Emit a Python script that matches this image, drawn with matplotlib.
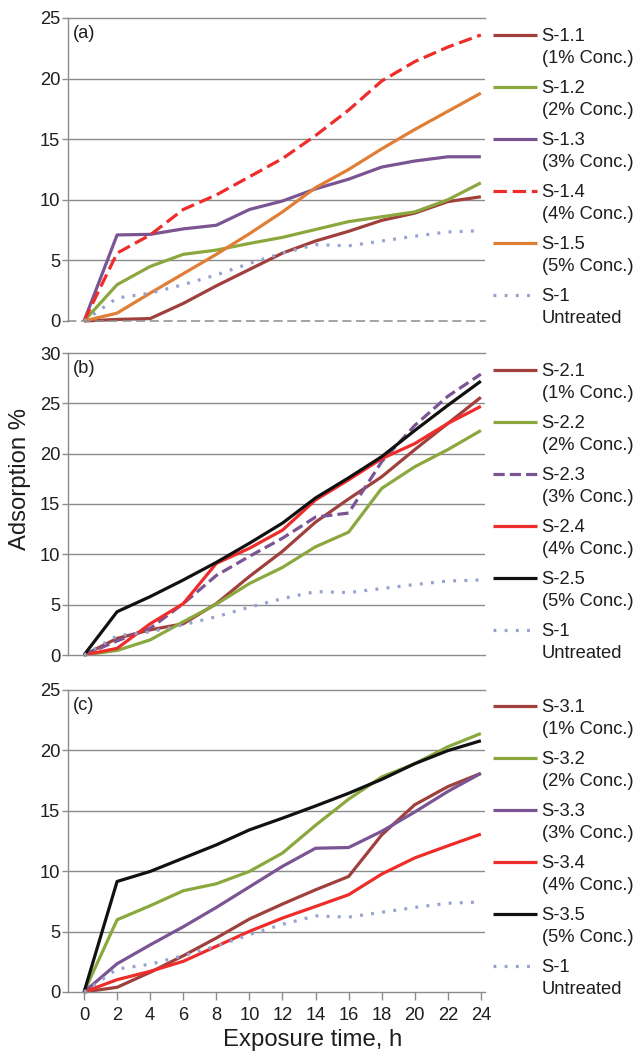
import matplotlib
matplotlib.use("Agg")
import matplotlib.pyplot as plt
from matplotlib.legend_handler import HandlerLine2D
from matplotlib.font_manager import FontProperties

plt.rcParams['font.family'] = ['Liberation Sans', 'DejaVu Sans']

# ---------------- data ----------------
hours = [0, 2, 4, 6, 8, 10, 12, 14, 16, 18, 20, 22, 24]

untreated = [0, 1.9, 2.3, 3.0, 3.8, 4.75, 5.6, 6.3, 6.2, 6.6, 7.0, 7.35, 7.45]

a_s11 = [0, 0.13, 0.2, 1.45, 2.9, 4.25, 5.6, 6.6, 7.4, 8.3, 8.9, 9.85, 10.25]
a_s12 = [0, 3.0, 4.5, 5.5, 5.85, 6.4, 6.9, 7.55, 8.2, 8.6, 9.0, 10.0, 11.4]
a_s13 = [0, 7.1, 7.15, 7.6, 7.9, 9.2, 9.9, 10.9, 11.7, 12.7, 13.2, 13.55, 13.55]
a_s14 = [0, 5.6, 7.1, 9.2, 10.4, 11.9, 13.4, 15.3, 17.4, 19.8, 21.4, 22.6, 23.6]
a_s15 = [0, 0.65, 2.3, 3.9, 5.5, 7.2, 9.0, 11.0, 12.5, 14.2, 15.8, 17.3, 18.8]

b_s21 = [0, 1.65, 2.5, 3.1, 5.1, 7.8, 10.3, 13.2, 15.5, 17.7, 20.4, 23.0, 25.6]
b_s22 = [0, 0.45, 1.5, 3.3, 5.05, 7.1, 8.7, 10.75, 12.2, 16.55, 18.7, 20.4, 22.3]
b_s23 = [0, 1.4, 2.65, 5.1, 7.9, 9.8, 11.6, 13.7, 14.1, 19.2, 22.8, 25.7, 27.9]
b_s24 = [0, 0.66, 3.1, 5.1, 9.1, 10.6, 12.4, 15.4, 17.4, 19.5, 21.0, 23.0, 24.7]
b_s25 = [0, 4.3, 5.8, 7.45, 9.2, 11.1, 13.1, 15.6, 17.6, 19.7, 22.3, 24.8, 27.2]

c_s31 = [0, 0.39, 1.63, 3.0, 4.47, 6.04, 7.28, 8.46, 9.56, 13.0, 15.5, 17.0, 18.1]
c_s32 = [0, 5.98, 7.14, 8.38, 8.96, 9.98, 11.5, 13.8, 15.96, 17.8, 18.9, 20.3, 21.4]
c_s33 = [0, 2.34, 3.9, 5.4, 7.0, 8.7, 10.4, 11.9, 11.96, 13.3, 14.9, 16.6, 18.1]
c_s34 = [0, 1.02, 1.71, 2.54, 3.78, 5.02, 6.12, 7.08, 8.05, 9.76, 11.1, 12.1, 13.07]
c_s35 = [0, 9.15, 9.98, 11.08, 12.18, 13.42, 14.39, 15.4, 16.45, 17.6, 18.9, 19.98, 20.8]

labels_a = ["S-1.1\n(1% Conc.)", "S-1.2\n(2% Conc.)", "S-1.3\n(3% Conc.)",
            "S-1.4\n(4% Conc.)", "S-1.5\n(5% Conc.)", "S-1\nUntreated"]
labels_b = ["S-2.1\n(1% Conc.)", "S-2.2\n(2% Conc.)", "S-2.3\n(3% Conc.)",
            "S-2.4\n(4% Conc.)", "S-2.5\n(5% Conc.)", "S-1\nUntreated"]
labels_c = ["S-3.1\n(1% Conc.)", "S-3.2\n(2% Conc.)", "S-3.3\n(3% Conc.)",
            "S-3.4\n(4% Conc.)", "S-3.5\n(5% Conc.)", "S-1\nUntreated"]

# ---------------- styles ----------------
BROWN = '#A0403C'
GREEN = '#8BA83E'
PURPLE = '#7B5493'
RED = '#EE2D2A'
ORANGE = '#E07E35'
DOT = '#94A2CF'
BLACK = '#111111'
GRID = '#8C8C8C'
TXT = '#1E1E1E'

LW = 2.3
FS = 13.2
SOLID = '-'
DASHED = (0, (4.2, 1.8))
DASHED2 = (0, (3.5, 1.6))
DOTTED = (0, (0.9, 2.6))

DPI = 100
W, H = 634, 1055
fig = plt.figure(figsize=(W / DPI, H / DPI), dpi=DPI)

# ---- legend metrics (pixels) ----
renderer = fig.canvas.get_renderer()
fs_px = FS * DPI / 72.0
_, lp_h, lp_d = renderer.get_text_width_height_descent(
    "lp", FontProperties(family=['Liberation Sans'], size=FS), ismath=False)
LINE_DIST = 22.0      # baseline distance between the two label lines (px)
ENTRY_PITCH = 52.0    # distance between legend entries (px)
LINESPACING = (LINE_DIST - lp_d) / (lp_h - lp_d)
LABELSPACING = (ENTRY_PITCH - (lp_h + LINE_DIST)) / fs_px
CAP_MID = 0.344 * fs_px
# legend text boxes use a centred (multiline) baseline; move handle to first line
HANDLE_SHIFT_PT = (LINE_DIST / 2 + 0.5 * lp_d + CAP_MID - 0.35 * fs_px) * 72.0 / DPI
TOP_OFFSET = (lp_h - lp_d) - CAP_MID   # text-top above first cap middle


class UpperHandler(HandlerLine2D):
    """Place the legend line next to the first line of a two-line label."""
    def __init__(self, shift, **kw):
        super().__init__(**kw)
        self.shift = shift

    def create_artists(self, legend, orig_handle, xdescent, ydescent,
                       width, height, fontsize, trans):
        arts = super().create_artists(legend, orig_handle, xdescent, ydescent,
                                      width, height, fontsize, trans)
        for a in arts:
            a.set_ydata([v + self.shift for v in a.get_ydata()])
        return arts


def px_box(top, bottom, left=68, right=485):
    return [left / W, 1 - bottom / H, (right - left) / W, (bottom - top) / H]


def make_panel(top, bottom, ymax, series, labels, tag, leg_mid_y,
               bottom_dashed=False, show_x=False):
    ax = fig.add_axes(px_box(top, bottom))
    handles = []
    for (vals, color, ls) in series:
        ln, = ax.plot(hours, vals, color=color, lw=LW, linestyle=ls,
                      solid_capstyle='butt', dash_capstyle='butt', clip_on=False)
        handles.append(ln)
    ax.set_xlim(-0.97, 24.25)
    ax.set_ylim(0, ymax)
    ax.set_yticks(range(0, ymax + 1, 5))
    ax.yaxis.grid(True, color=GRID, lw=1.0)
    ax.set_axisbelow(True)
    ax.spines['right'].set_visible(False)
    for s in ['left', 'top', 'bottom']:
        ax.spines[s].set_color(GRID)
        ax.spines[s].set_linewidth(1.0)
    if bottom_dashed:
        ax.spines['bottom'].set_linestyle((0, (5, 4)))
        ax.spines['bottom'].set_linewidth(1.1)
    gls = ax.get_ygridlines()
    gls[0].set_visible(False)
    gls[-1].set_visible(False)
    ax.tick_params(axis='y', direction='out', length=4, width=1.0, color=GRID,
                   pad=1.5, labelsize=FS, labelcolor=TXT)
    if show_x:
        ax.set_xticks(hours)
        ax.tick_params(axis='x', direction='out', length=6, width=1.0, color=GRID,
                       pad=5, labelsize=FS, labelcolor=TXT)
    else:
        ax.set_xticks([])
    ax.text(0.012, 0.95, tag, transform=ax.transAxes, ha='left', va='center',
            fontsize=FS, color=TXT)
    leg_top = leg_mid_y - TOP_OFFSET
    leg = ax.legend(handles, labels, loc='upper left',
                    bbox_to_anchor=(493 / W, 1 - leg_top / H),
                    bbox_transform=fig.transFigure, frameon=False,
                    fontsize=FS, handlelength=2.4, handletextpad=0.25,
                    labelspacing=LABELSPACING, borderpad=0, borderaxespad=0,
                    handler_map={h: UpperHandler(shift=HANDLE_SHIFT_PT) for h in handles})
    for t in leg.get_texts():
        t.set_color(TXT)
        t.set_linespacing(LINESPACING)
    return ax


make_panel(18, 321, 25,
           [(a_s11, BROWN, SOLID), (a_s12, GREEN, SOLID), (a_s13, PURPLE, SOLID),
            (a_s14, RED, DASHED), (a_s15, ORANGE, SOLID), (untreated, DOT, DOTTED)],
           labels_a, '(a)', 35, bottom_dashed=True)

make_panel(353, 655, 30,
           [(b_s21, BROWN, SOLID), (b_s22, GREEN, SOLID), (b_s23, PURPLE, DASHED2),
            (b_s24, RED, SOLID), (b_s25, BLACK, SOLID), (untreated, DOT, DOTTED)],
           labels_b, '(b)', 370)

make_panel(690, 992, 25,
           [(c_s31, BROWN, SOLID), (c_s32, GREEN, SOLID), (c_s33, PURPLE, SOLID),
            (c_s34, RED, SOLID), (c_s35, BLACK, SOLID), (untreated, DOT, DOTTED)],
           labels_c, '(c)', 706, show_x=True)

fig.text(20 / W, 1 - 479 / H, 'Adsorption %', rotation=90, ha='center', va='center',
         fontsize=17.2, color=TXT)
fig.text(313 / W, 1 - 1040 / H, 'Exposure time, h', ha='center', va='center',
         fontsize=17.2, color=TXT)

fig.savefig('out.png', dpi=DPI)
